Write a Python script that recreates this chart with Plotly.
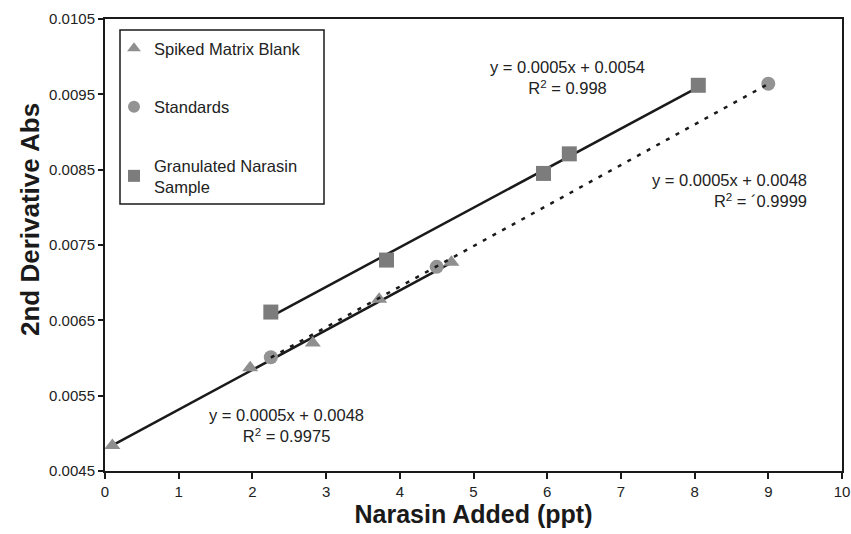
import numpy as np
import plotly.graph_objects as go

# Data
blank_x = [0.1, 1.97, 2.82, 3.72, 4.7]
blank_y = [0.00484, 0.00587, 0.00620, 0.00678, 0.00727]
std_x = [2.25, 4.5, 9.0]
std_y = [0.00601, 0.00721, 0.00964]
gran_x = [2.25, 3.82, 5.95, 6.3, 8.05]
gran_y = [0.00661, 0.00730, 0.00845, 0.00871, 0.00962]

x_ticks = list(range(0, 11))
y_ticks = [0.0045, 0.0055, 0.0065, 0.0075, 0.0085, 0.0095, 0.0105]

FONT = "Liberation Sans, Arial, sans-serif"
INK = "#1a1a1a"


def trend(xs, ys):
    m, b = np.polyfit(xs, ys, 1)
    xe = [min(xs), max(xs)]
    return xe, [m * v + b for v in xe]


fig = go.Figure()

# Trend lines
tx, ty = trend(blank_x, blank_y)
fig.add_trace(go.Scatter(x=tx, y=ty, mode="lines", line=dict(color=INK, width=2.5),
                         showlegend=False, hoverinfo="skip"))
tx, ty = trend(gran_x, gran_y)
fig.add_trace(go.Scatter(x=tx, y=ty, mode="lines", line=dict(color=INK, width=2.5),
                         showlegend=False, hoverinfo="skip"))

# Markers
fig.add_trace(go.Scatter(x=blank_x, y=blank_y, mode="markers", name="Spiked Matrix Blank",
                         legendgroup="a",
                         marker=dict(symbol="triangle-up", size=14, color="#8f8f8f")))
fig.add_trace(go.Scatter(x=std_x, y=std_y, mode="markers", name="Standards",
                         legendgroup="b",
                         marker=dict(symbol="circle", size=14, color="#939393")))
fig.add_trace(go.Scatter(x=gran_x, y=gran_y, mode="markers", name="Granulated Narasin<br>Sample",
                         legendgroup="c",
                         marker=dict(symbol="square", size=15, color="#7c7c7c")))

tx, ty = trend(std_x, std_y)
fig.add_trace(go.Scatter(x=tx, y=ty, mode="lines", line=dict(color=INK, width=2.5, dash="4px,7px"),
                         showlegend=False, hoverinfo="skip"))

ann_font = dict(family=FONT, size=16.5, color="#222222")
fig.add_annotation(x=6.27, y=0.00972, xref="x", yref="y", showarrow=False,
                   text="y = 0.0005x + 0.0054<br>R<sup>2</sup> = 0.998", align="center",
                   font=ann_font)
fig.add_annotation(x=9.55, y=0.00823, xref="x", yref="y", showarrow=False, xanchor="right",
                   text="y = 0.0005x + 0.0048<br>R<sup>2</sup> = \u00b40.9999", align="right",
                   font=ann_font)
fig.add_annotation(x=2.46, y=0.00511, xref="x", yref="y", showarrow=False,
                   text="y = 0.0005x + 0.0048<br>R<sup>2</sup> = 0.9975", align="center",
                   font=ann_font)

# Y axis title (shifted upward as in the reference)
fig.add_annotation(x=30, y=220, xref="paper", yref="paper", showarrow=False,
                   text="<b>2nd Derivative Abs</b>", textangle=-90,
                   font=dict(family=FONT, size=26, color=INK))
fig.layout.annotations[-1].update(x=-(105 - 30) / 737, y=1 - (220 - 19) / 452,
                                  xanchor="center", yanchor="middle")

# Legend frame
fig.add_shape(type="rect", xref="paper", yref="paper",
              x0=(120 - 105) / 737, x1=(324 - 105) / 737,
              y0=1 - (204 - 19) / 452, y1=1 - (30 - 19) / 452,
              line=dict(color=INK, width=1.5), fillcolor="white", layer="above")

fig.update_layout(
    width=851, height=534,
    margin=dict(l=105, r=9, t=19, b=44),
    paper_bgcolor="white", plot_bgcolor="white",
    font=dict(family=FONT, color=INK),
    showlegend=True,
    legend=dict(x=(114 - 105) / 737, y=1 - (31 - 19) / 452, xanchor="left", yanchor="top",
                borderwidth=0, bgcolor="rgba(0,0,0,0)",
                traceorder="grouped", tracegroupgap=34,
                font=dict(family=FONT, size=16.5, color="#222222"),
                itemsizing="constant"),
    xaxis=dict(range=[0, 10], tickvals=x_ticks, ticktext=[str(v) for v in x_ticks],
               showgrid=False, zeroline=False, showline=True, linecolor=INK, linewidth=2,
               mirror=True, ticks="outside", ticklen=6, tickwidth=1.5, tickcolor=INK,
               automargin=False,
               tickfont=dict(family=FONT, size=15, color="#222222")),
    yaxis=dict(range=[0.0045, 0.0105], tickvals=y_ticks, ticktext=[f"{v:.4f}" for v in y_ticks],
               showgrid=False, zeroline=False, showline=True, linecolor=INK, linewidth=2,
               mirror=True, ticks="outside", ticklen=5, tickwidth=1.5, tickcolor=INK,
               automargin=False,
               tickfont=dict(family=FONT, size=15, color="#222222")),
)
fig.update_layout(margin=dict(b=63))
fig.update_xaxes(title=dict(text="<b>Narasin Added (ppt)</b>",
                            font=dict(family=FONT, size=25, color=INK), standoff=4))

fig.write_html("out.html")
